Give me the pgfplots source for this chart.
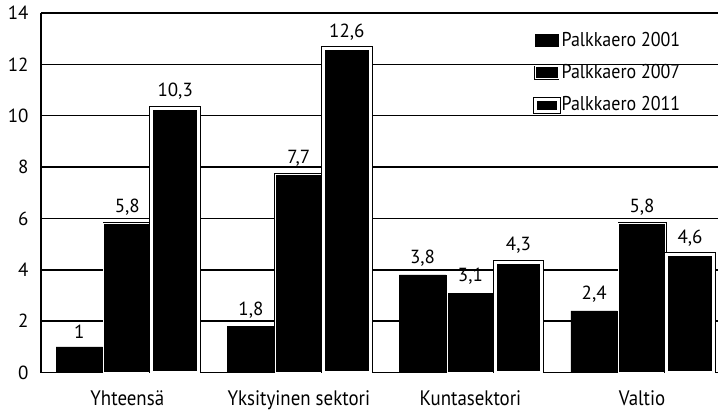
\documentclass[border=0pt]{standalone}
\usepackage{fontspec}
\setmainfont{PT Sans}[FakeStretch=0.9]
\newfontfamily\numfont{PT Sans}
\usepackage{pgfplots}
\pgfplotsset{compat=1.18}
\pgfplotsset{
  boxlegend/.style={legend image code/.code={
      \draw[##1] (0pt,-3pt) rectangle (11.5pt,3pt);}},
}
\begin{document}
\begin{tikzpicture}
\begin{axis}[
    scale only axis,
    width=339pt, height=180pt,
    ybar=0.7pt, bar width=23.3pt,
    xmin=-0.503, xmax=3.443,
    ymin=0, ymax=14,
    xtick=data,
    xticklabels={Yhteensä, Yksityinen sektori, Kuntasektori, Valtio},
    ytick={0,2,...,14},
    ymajorgrids,
    grid style={black, line width=0.7pt},
    axis x line*=bottom, axis y line*=left,
    axis line style={-, line width=0.9pt},
    major tick length=0pt,
    yticklabel style={font=\numfont\fontsize{9.5}{11}\selectfont,
      inner sep=0pt, anchor=east, xshift=-6pt},
    xticklabel style={font=\fontsize{10.5}{12}\selectfont,
      inner sep=0pt, anchor=north, yshift=-9pt},
    /pgf/number format/assume math mode=true,
    /pgf/number format/use comma,
    nodes near coords,
    nodes near coords style={font=\numfont\fontsize{9.5}{11}\selectfont,
      inner sep=1pt, yshift=3pt, black},
    legend style={draw=none, fill=none, at={(rel axis cs:0.955,0.962)}, anchor=north east,
      font=\fontsize{10}{12}\selectfont, row sep=6.5pt,
      nodes={inner sep=0.5pt}},
    legend cell align=left,
    boxlegend,
  ]
\addplot[fill=black, draw=black, line width=0.3pt]
  coordinates {(0,1) (1,1.8) (2,3.8) (3,2.4)};
\addplot[fill=black, draw=black, line width=0.4pt, double=white, double distance=0.5pt]
  coordinates {(0,5.8) (1,7.7) (2,3.1) (3,5.8)};
\addplot[fill=black, draw=black, line width=0.5pt, double=white, double distance=1.5pt]
  coordinates {(0,10.3) (1,12.6) (2,4.3) (3,4.6)};
\legend{Palkkaero 2001, Palkkaero 2007, Palkkaero 2011}
\coordinate (ll) at (rel axis cs:0,0);
\coordinate (ul) at (rel axis cs:0,1);
\end{axis}
\path (ll) ++(-20.5pt,0pt);
\path (ul) ++(0pt,6.5pt);
\end{tikzpicture}
\end{document}
